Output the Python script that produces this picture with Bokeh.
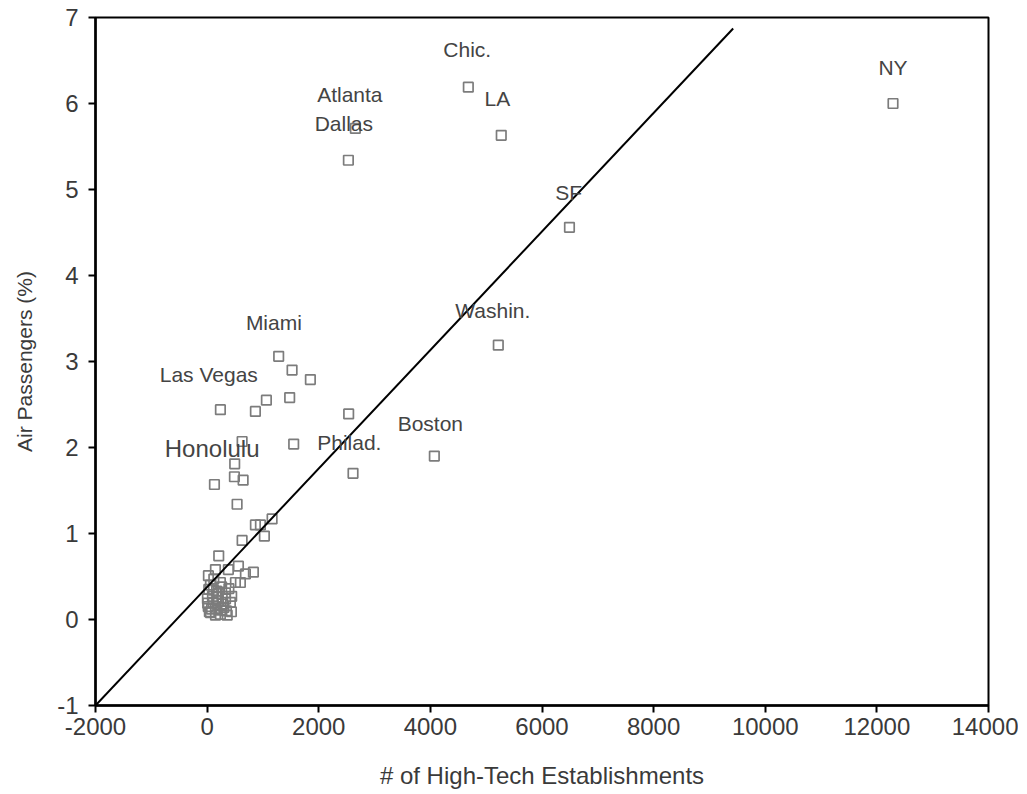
from bokeh.plotting import figure
from bokeh.models import Range1d, FixedTicker, ColumnDataSource
from bokeh.core.properties import value
from bokeh.embed import file_html
from bokeh.resources import INLINE

# --- data ---
est_x = [12289, 4680, 5270, 2656, 2531, 6492, 5217, 4071, 2614, 2536,
         1282, 1522, 1850, 1479, 1062, 865, 238, 1551, 627, 494,
         489, 645, 131, 537, 1164, 865, 955, 1026, 627, 208,
         829, 686, 596, 149, 381, 561, 23, 238, 507, 113,
         328, 5, 202, 417, 20, 149, 346, 59, 238, 435,
         10, 95, 40, 170, 300, 60, 120, 260, 390, 200,
         80, 330, 150, 280, 440, 30, 180, 360, 110, 250]
air_y = [6.00, 6.19, 5.63, 5.71, 5.34, 4.56, 3.19, 1.90, 1.70, 2.39,
         3.06, 2.90, 2.79, 2.58, 2.55, 2.42, 2.44, 2.04, 2.07, 1.81,
         1.66, 1.62, 1.57, 1.34, 1.17, 1.10, 1.10, 0.97, 0.92, 0.74,
         0.55, 0.53, 0.43, 0.58, 0.58, 0.62, 0.51, 0.43, 0.43, 0.34,
         0.31, 0.24, 0.22, 0.20, 0.15, 0.13, 0.10, 0.08, 0.06, 0.09,
         0.19, 0.27, 0.09, 0.33, 0.14, 0.40, 0.47, 0.38, 0.36, 0.30,
         0.12, 0.24, 0.05, 0.18, 0.27, 0.35, 0.26, 0.05, 0.20, 0.11]

city_names = ["NY", "Chic.", "Atlanta", "LA", "Dallas", "SF", "Washin.",
              "Miami", "Las Vegas", "Boston", "Philad."]
city_x = [12289, 4661, 2557, 5199, 2450, 6479, 5118, 1196, 30, 3999, 2548]
city_y = [6.42, 6.63, 6.10, 6.06, 5.77, 4.97, 3.59, 3.45, 2.85, 2.28, 2.06]

big_name = ["Honolulu"]
big_x = [90]
big_y = [1.99]

fit_intercept = 0.378
fit_slope = 0.000689
fit_x = [-2000, 9425]
fit_y = [fit_intercept + fit_slope * v for v in fit_x]

x_ticks = [-2000, 0, 2000, 4000, 6000, 8000, 10000, 12000, 14000]
y_ticks = [-1, 0, 1, 2, 3, 4, 5, 6, 7]

FONT = "Liberation Sans"

p = figure(frame_width=893, frame_height=688,
           x_range=Range1d(-2000, 14000), y_range=Range1d(-1, 7),
           output_backend="svg", toolbar_location=None,
           min_border_left=95, min_border_right=30,
           min_border_top=17, min_border_bottom=88)
p.background_fill_color = "white"
p.border_fill_color = "white"
p.grid.visible = False
p.outline_line_color = "black"
p.outline_line_width = 2

p.xaxis.ticker = FixedTicker(ticks=x_ticks)
p.yaxis.ticker = FixedTicker(ticks=y_ticks)
p.xaxis.major_label_overrides = {t: str(t) for t in x_ticks}
p.yaxis.major_label_overrides = {t: str(t) for t in y_ticks}
for ax in (p.xaxis, p.yaxis):
    ax.axis_line_color = "black"
    ax.axis_line_width = 2.5
    ax.major_tick_line_color = "black"
    ax.major_tick_line_width = 2
    ax.major_tick_out = 7
    ax.major_tick_in = 0
    ax.minor_tick_line_color = None
    ax.major_label_text_font = FONT
    ax.major_label_text_font_size = "24px"
    ax.major_label_text_color = "#3a3a3a"
    ax.axis_label_text_font = FONT
    ax.axis_label_text_font_style = "normal"
    ax.axis_label_text_color = "#3a3a3a"

p.xaxis.axis_label = "# of High-Tech Establishments"
p.yaxis.axis_label = "Air Passengers (%)"
p.xaxis.axis_label_text_font_size = "24px"
p.yaxis.axis_label_text_font_size = "21px"
p.xaxis.axis_label_standoff = 24
p.yaxis.axis_label_standoff = 18
p.xaxis.major_label_standoff = 5
p.yaxis.major_label_standoff = 10

p.scatter(est_x, air_y, marker="square", size=9.5, line_color="#7c7c7c",
          line_width=1.7, fill_color=None)

p.line(fit_x, fit_y, line_color="black", line_width=2)

src = ColumnDataSource(dict(x=city_x, y=city_y, t=city_names))
p.text(x="x", y="y", text="t", source=src, text_font=value(FONT),
       text_font_size="21px", text_color="#444444",
       text_align="center", text_baseline="middle")

src2 = ColumnDataSource(dict(x=big_x, y=big_y, t=big_name))
p.text(x="x", y="y", text="t", source=src2, text_font=value(FONT),
       text_font_size="24px", text_color="#444444",
       text_align="center", text_baseline="middle")

open("out.html", "w").write(file_html(p, INLINE))
